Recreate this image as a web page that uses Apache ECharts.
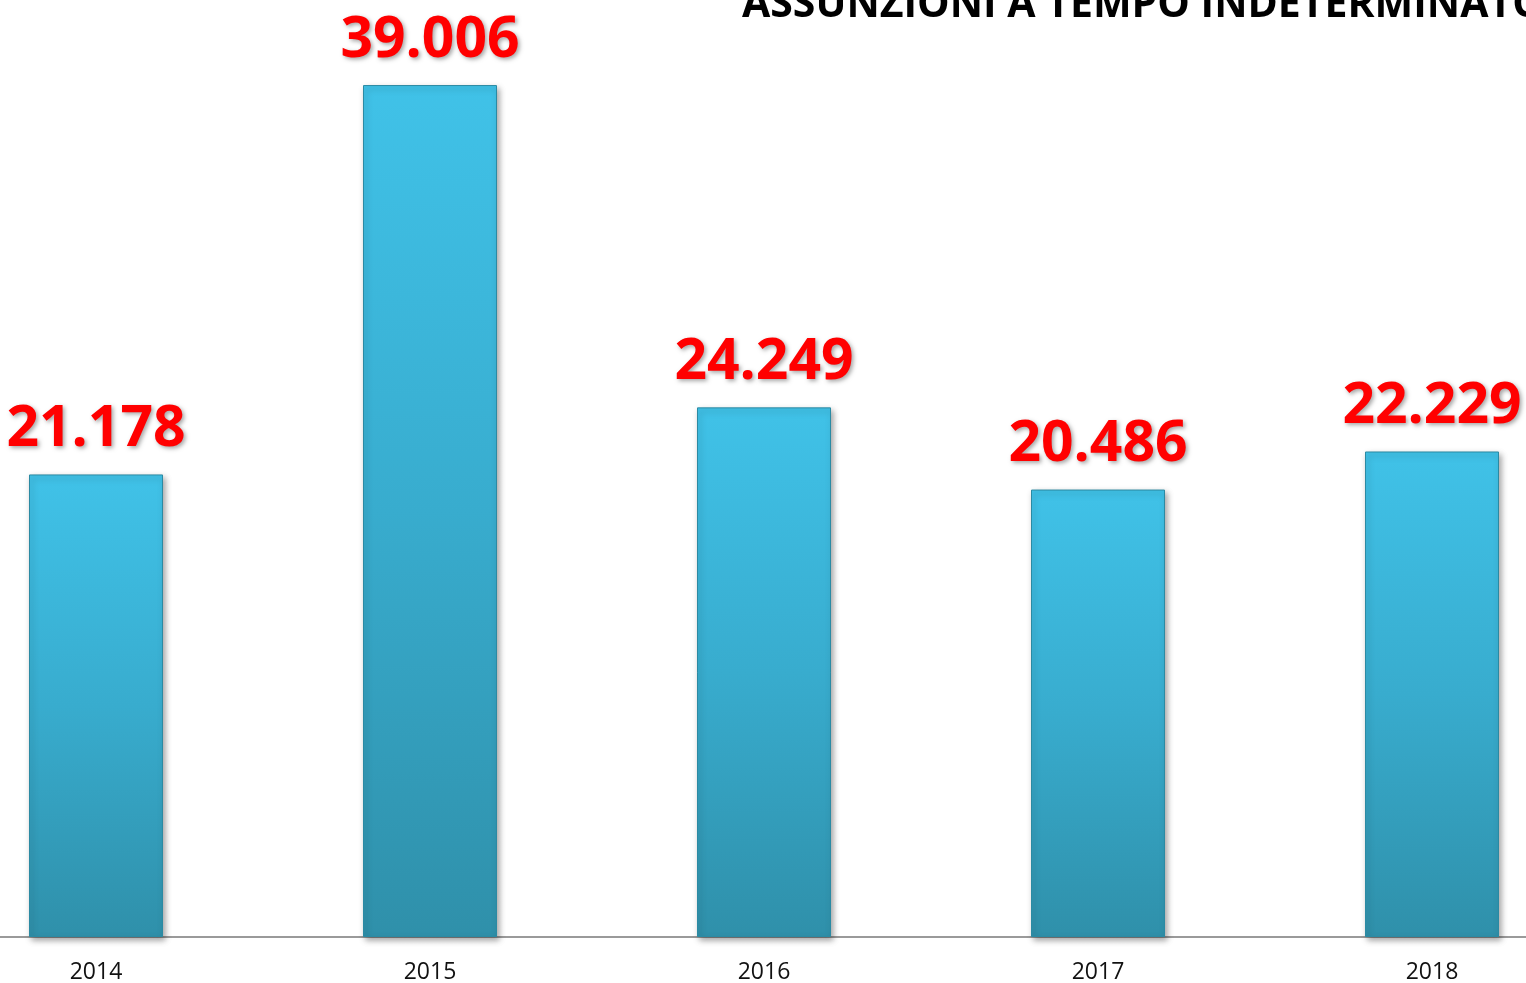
<!DOCTYPE html>
<html>
<head>
<meta charset="utf-8">
<script src="https://cdn.jsdelivr.net/npm/echarts@6/dist/echarts.min.js"></script>
<style>
html, body { margin: 0; padding: 0; background: #fff; overflow: hidden; }
#wrap { position: relative; width: 1526px; height: 983px; overflow: hidden; }
#ech { position: absolute; left: -71px; top: 0; width: 1670px; height: 983px; }
</style>
</head>
<body>
<div id="wrap"><div id="ech"></div></div>
<script>
var anni = ['2014', '2015', '2016', '2017', '2018'];
var assunzioni = [21178, 39006, 24249, 20486, 22229];
var titolo = 'ASSUNZIONI A TEMPO INDETERMINATO';

function formatta(v) {
	return String(v).replace(/\B(?=(\d{3})+(?!\d))/g, '.');
}

// il grafico originale è tagliato ai lati: il contenitore sporge di 71px a sinistra
var myChart = echarts.init(document.getElementById('ech'));
var option = {
	backgroundColor: '#ffffff',
	animation: false,
	graphic: [{
		type: 'text',
		left: 742 + 71,
		top: -15,
		style: {
			text: titolo,
			font: 'bold 41px "Open Sans"',
			fill: '#000'
		}
	}],
	grid: { left: 0, right: 0, top: 0, bottom: 46, outerBoundsMode: 'none', containLabel: false },
	xAxis: {
		type: 'category',
		data: anni,
		axisTick: { show: false },
		axisLine: { lineStyle: { color: '#9a9a9a', width: 2 } },
		axisLabel: { color: '#111', fontSize: 23, fontFamily: 'Open Sans', margin: 24 }
	},
	yAxis: {
		type: 'value',
		min: 0,
		max: 42900,
		show: false,
		splitLine: { show: false }
	},
	series: [{
		type: 'bar',
		data: assunzioni,
		barWidth: 134,
		itemStyle: {
			color: new echarts.graphic.LinearGradient(0, 0, 0, 1, [
				{ offset: 0, color: '#40c2e8' },
				{ offset: 0.5, color: '#38acce' },
				{ offset: 1, color: '#2f90aa' }
			]),
			borderColor: '#2b8aa3',
			borderWidth: 1,
			shadowColor: 'rgba(0,0,0,0.35)',
			shadowBlur: 6,
			shadowOffsetX: 2,
			shadowOffsetY: 3
		},
		label: {
			show: true,
			position: 'top',
			distance: 16,
			formatter: function (p) { return formatta(p.value); },
			color: '#ff0000',
			fontSize: 57,
			fontWeight: 'bold',
			fontFamily: 'Open Sans',
			textShadowColor: 'rgba(0,0,0,0.35)',
			textShadowBlur: 4,
			textShadowOffsetX: 2,
			textShadowOffsetY: 2
		}
	}]
};
myChart.setOption(option);
</script>
</body>
</html>
